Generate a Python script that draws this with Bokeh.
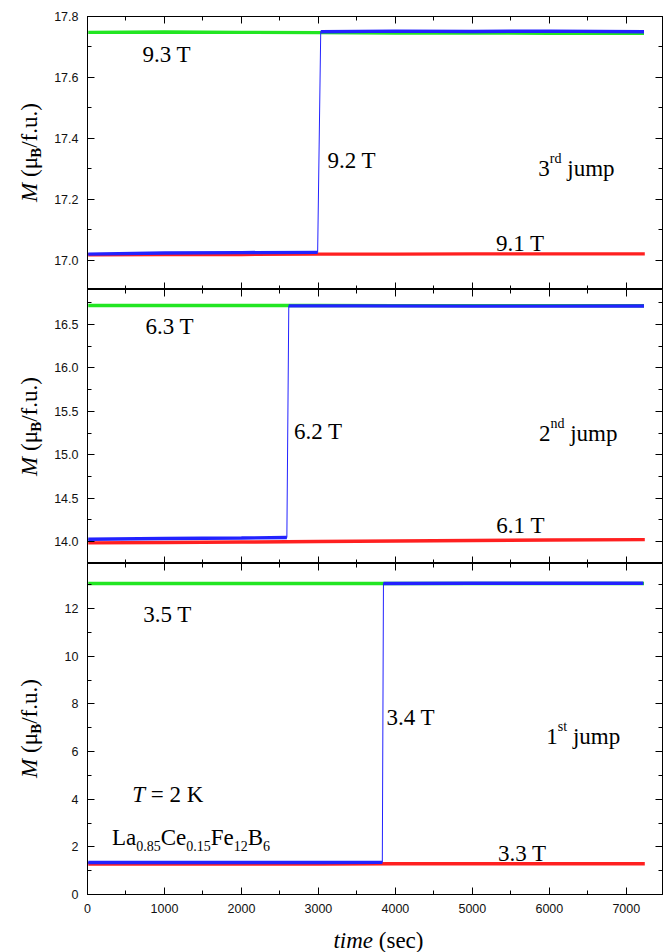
import math
from bokeh.plotting import figure
from bokeh.models import Range1d, LinearAxis, FixedTicker, PrintfTickFormatter, CustomJSTickFormatter, Label
from bokeh.layouts import column, row
from bokeh.embed import file_html
from bokeh.resources import INLINE

# ---------------- data ----------------
x_ticks = [0, 1000, 2000, 3000, 4000, 5000, 6000, 7000]
x_minor = [500, 1500, 2500, 3500, 4500, 5500, 6500]

# 3rd jump panel (top)
top_ticks = [17.0, 17.2, 17.4, 17.6, 17.8]
top_minor = [16.9, 17.1, 17.3, 17.5, 17.7]
t3_red = [10, 1000, 2000, 3000, 4000, 5000, 6000, 7240]
m3_red = [17.018, 17.019, 17.019, 17.020, 17.020, 17.021, 17.021, 17.021]
t3_green = [10, 1000, 2000, 3000, 4000, 5000, 6000, 7230]
m3_green = [17.748, 17.749, 17.748, 17.747, 17.746, 17.746, 17.745, 17.745]
t3_blue = [10, 1000, 2000, 2990, 3030, 4000, 5000, 6000, 7230]
m3_blue = [17.020, 17.024, 17.025, 17.026, 17.750, 17.752, 17.751, 17.752, 17.750]

# 2nd jump panel (middle)
mid_ticks = [14.0, 14.5, 15.0, 15.5, 16.0, 16.5]
mid_minor = [13.75, 14.25, 14.75, 15.25, 15.75, 16.25, 16.75]
t2_red = [10, 1000, 2000, 3000, 4000, 5000, 6000, 7240]
m2_red = [13.984, 13.988, 13.993, 13.999, 14.006, 14.011, 14.016, 14.021]
t2_green = [10, 1000, 2000, 3000, 4000, 5000, 6000, 7230]
m2_green = [16.720, 16.720, 16.719, 16.719, 16.718, 16.718, 16.718, 16.717]
t2_blue = [10, 1000, 2000, 2590, 2615, 3500, 5000, 6000, 7230]
m2_blue = [14.025, 14.035, 14.040, 14.045, 16.715, 16.715, 16.712, 16.712, 16.713]

# 1st jump panel (bottom)
bot_ticks = [0, 2, 4, 6, 8, 10, 12]
bot_minor = [1, 3, 5, 7, 9, 11, 13]
t1_red = [10, 1000, 2000, 3000, 4000, 5000, 6000, 7240]
m1_red = [1.28, 1.28, 1.28, 1.28, 1.29, 1.29, 1.29, 1.29]
t1_green = [10, 1000, 2000, 3000, 4000, 5000, 6000, 7230]
m1_green = [13.05, 13.05, 13.05, 13.05, 13.05, 13.05, 13.05, 13.05]
t1_blue = [10, 1000, 2000, 3000, 3830, 3845, 5000, 6000, 7220]
m1_blue = [1.34, 1.34, 1.34, 1.34, 1.35, 13.05, 13.06, 13.06, 13.06]

# ---------------- styling helpers ----------------
SERIF = "Liberation Serif"
SANS = "Liberation Sans"
RED, GREEN, BLUE = "#ff2020", "#22e622", "#2222ff"

W_REG = {' ': 250, '(': 333, ')': 333, '.': 250, '/': 278, '=': 564, 'B': 667, 'C': 667,
         'F': 556, 'K': 722, 'L': 611, 'M': 889, 'T': 611, 'a': 444, 'c': 444, 'd': 500,
         'e': 444, 'f': 333, 'i': 278, 'j': 278, 'm': 778, 'n': 500, 'p': 500, 'r': 333,
         's': 389, 't': 278, 'u': 500, 'μ': 500}
W_IT = {'M': 833, 'T': 556, 't': 278, 'i': 278, 'm': 722, 'e': 444}


def tw(text, size, style):
    tot = 0
    for ch in text:
        if ch.isdigit():
            w = 500
        elif style == "italic" and ch in W_IT:
            w = W_IT[ch]
        else:
            w = W_REG.get(ch, 500)
        tot += w
    return tot / 1000.0 * size


def rich(p, x, y, parts, align="left", rotated=False):
    total = sum(tw(t, s, st) for t, s, st, dy in parts)
    off = 0 if align == "left" else -total / 2.0
    for t, s, st, dy in parts:
        lead = len(t) - len(t.lstrip(" "))
        off += tw(" " * lead, s, st)
        txt = t.lstrip(" ")
        if rotated:
            lbl = Label(x=x, y=y, x_offset=-dy, y_offset=off, angle=math.pi / 2, text=txt,
                        text_font=SERIF, text_font_size=f"{s}px", text_font_style=st,
                        text_baseline="alphabetic", text_align="left", text_color="black")
        else:
            lbl = Label(x=x, y=y, x_offset=off, y_offset=dy, text=txt,
                        text_font=SERIF, text_font_size=f"{s}px", text_font_style=st,
                        text_baseline="alphabetic", text_align="left", text_color="black")
        p.add_layout(lbl)
        off += tw(txt, s, st)


FS = 23
LEFT_W = 47          # strip that carries the y titles
xr = Range1d(0, 7470)


def style_axis(ax, ticks, minor, fmt, labels):
    ax.ticker = FixedTicker(ticks=ticks, minor_ticks=minor)
    ax.major_tick_in = 7
    ax.major_tick_out = 0
    ax.minor_tick_in = 4
    ax.minor_tick_out = 0
    ax.axis_line_color = "black"
    ax.major_tick_line_color = "black"
    ax.minor_tick_line_color = "black"
    if labels:
        ax.formatter = PrintfTickFormatter(format=fmt)
        ax.major_label_text_font = SANS
        ax.major_label_text_font_size = "12.5px"
        ax.major_label_text_color = "#111111"
        ax.major_label_standoff = 9
    else:
        ax.formatter = CustomJSTickFormatter(code="return ''")
        ax.major_label_text_font_size = "0px"
        ax.major_label_standoff = 0


def make_panel(yr, height, btop, bbot, yticks, yminor, yfmt, xlabels):
    p = figure(width=670 - LEFT_W, height=height, x_range=xr, y_range=yr,
               output_backend="svg", toolbar_location=None,
               min_border_left=87 - LEFT_W, min_border_right=8,
               min_border_top=btop, min_border_bottom=bbot)
    p.xgrid.visible = False
    p.ygrid.visible = False
    p.outline_line_color = "black"
    p.outline_line_width = 1
    style_axis(p.xaxis[0], x_ticks, x_minor, "%d", xlabels)
    style_axis(p.yaxis[0], yticks, yminor, yfmt, True)
    top = LinearAxis()
    style_axis(top, x_ticks, x_minor, "%d", False)
    p.add_layout(top, "above")
    right = LinearAxis()
    style_axis(right, yticks, yminor, yfmt, False)
    p.add_layout(right, "right")
    return p


def blank(width, height, xrange, yrange, bleft=0, bright=0):
    f = figure(width=width, height=height, x_range=xrange, y_range=yrange,
               output_backend="svg", toolbar_location=None,
               x_axis_location=None, y_axis_location=None,
               min_border_left=bleft, min_border_right=bright,
               min_border_top=0, min_border_bottom=0)
    f.xgrid.visible = False
    f.ygrid.visible = False
    f.outline_line_color = None
    return f


def draw_series(p, tr, mr, tg, mg, tb, mb, jump_idx):
    p.line(tr, mr, color=RED, line_width=3.4)
    p.line(tg, mg, color=GREEN, line_width=3.4)
    p.line(tb, mb, color=BLUE, line_width=1)
    p.line(tb[:jump_idx], mb[:jump_idx], color=BLUE, line_width=3.4)
    p.line(tb[jump_idx:], mb[jump_idx:], color=BLUE, line_width=3.4)


# ---------------- top panel ----------------
yr3 = Range1d(16.904, 17.8)
p3 = make_panel(yr3, 289, 16, 0, top_ticks, top_minor, "%.1f", False)
draw_series(p3, t3_red, m3_red, t3_green, m3_green, t3_blue, m3_blue, 4)
rich(p3, 1030, 17.6746, [("9.3 T", FS, "normal", 0)], align="center")
rich(p3, 3432, 17.3275, [("9.2 T", FS, "normal", 0)], align="center")
rich(p3, 5857, 17.300, [("3", FS, "normal", 0), ("rd", 14, "normal", 10), (" jump", FS, "normal", 0)])
rich(p3, 5621, 17.054, [("9.1 T", FS, "normal", 0)], align="center")

# ---------------- middle panel ----------------
yr2 = Range1d(13.746, 16.904)
p2 = make_panel(yr2, 274, 0, 0, mid_ticks, mid_minor, "%.1f", False)
draw_series(p2, t2_red, m2_red, t2_green, m2_green, t2_blue, m2_blue, 4)
rich(p2, 1068, 16.48, [("6.3 T", FS, "normal", 0)], align="center")
rich(p2, 2997, 15.271, [("6.2 T", FS, "normal", 0)], align="center")
rich(p2, 5865, 15.241, [("2", FS, "normal", 0), ("nd", 14, "normal", 10), (" jump", FS, "normal", 0)])
rich(p2, 5627, 14.182, [("6.1 T", FS, "normal", 0)], align="center")

# ---------------- bottom panel ----------------
yr1 = Range1d(0, 13.89)
p1 = make_panel(yr1, 359, 0, 28, bot_ticks, bot_minor, "%d", True)
draw_series(p1, t1_red, m1_red, t1_green, m1_green, t1_blue, m1_blue, 5)
rich(p1, 1039, 11.77, [("3.5 T", FS, "normal", 0)], align="center")
rich(p1, 4199, 7.41, [("3.4 T", FS, "normal", 0)], align="center")
rich(p1, 5961, 6.65, [("1", FS, "normal", 0), ("st", 14, "normal", 10), (" jump", FS, "normal", 0)])
rich(p1, 1043, 4.21, [("T", FS, "italic", 0), (" = 2 K", FS, "normal", 0)], align="center")
rich(p1, 317, 2.38, [("La", FS, "normal", 0), ("0.85", 14, "normal", -8),
                     ("Ce", FS, "normal", 0), ("0.15", 14, "normal", -8),
                     ("Fe", FS, "normal", 0), ("12", 14, "normal", -8),
                     ("B", FS, "normal", 0), ("6", 14, "normal", -8)])
rich(p1, 5647, 1.70, [("3.3 T", FS, "normal", 0)], align="center")

# ---------------- x title strip ----------------
xt = blank(670 - LEFT_W, 30, xr, Range1d(0, 30), bleft=87 - LEFT_W, bright=8)
rich(xt, 3780, 12, [("time", FS, "italic", 0), (" (sec)", FS, "normal", 0)], align="center")

# ---------------- y title strip (pixel coordinates, y down) ----------------
yt = blank(LEFT_W, 952, Range1d(0, LEFT_W), Range1d(952, 0))
ycent = [152, 426, 728]   # vertical centres of the three panels
for yc in ycent:
    rich(yt, 29, yc, [("M", FS, "italic", 0), (" (μ", FS, "normal", 0),
                      ("B", 15, "bold", -6), ("/f.u.)", FS, "normal", 0)],
         align="center", rotated=True)

layout = row(yt, column(p3, p2, p1, xt, spacing=0), spacing=0)
open("out.html", "w").write(file_html(layout, INLINE))
